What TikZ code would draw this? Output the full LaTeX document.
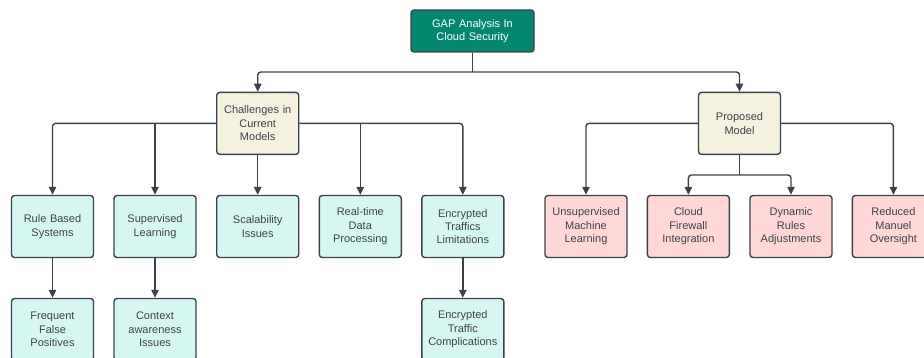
\documentclass[tikz,border=0pt]{standalone}
\usepackage{fontspec}
\setmainfont{Liberation Sans}
\usetikzlibrary{arrows.meta}
\definecolor{edge}{HTML}{3B424C}
\definecolor{txt}{HTML}{3F444C}
\definecolor{rootfill}{HTML}{05876F}
\definecolor{creamfill}{HTML}{F5F1DF}
\definecolor{mintfill}{HTML}{D6F7F1}
\definecolor{pinkfill}{HTML}{FFD7D7}
\tikzset{
  box/.style={draw=edge, line width=1.4pt, rounded corners=3pt, align=center,
    minimum width=82pt, minimum height=62pt, text width=78pt, inner sep=1pt,
    font=\fontsize{11}{13.4}\selectfont, text=txt},
  rootbox/.style={box, fill=rootfill, text=white, minimum width=123pt, minimum height=42pt, text width=118pt},
  midbox/.style={box, fill=creamfill},
  mintbox/.style={box, fill=mintfill},
  pinkbox/.style={box, fill=pinkfill},
  link/.style={draw=edge, line width=1.4pt, rounded corners=3pt},
  arr/.style={link, -{Triangle[length=8pt,width=7.5pt]}}
}
\begin{document}
\begin{tikzpicture}[x=1pt,y=-1pt]
  \useasboundingbox (0,0) rectangle (924,358);
  \clip (0,0) rectangle (924,358);

  % top level
  \node[rootbox] (root) at (472.5,31) {GAP Analysis In\\Cloud Security};

  % second level
  \node[midbox] (chal) at (257.7,123.4) {Challenges in\\Current\\Models};
  \node[midbox] (prop) at (739.5,123.4) {Proposed\\Model};

  % third level: challenges
  \node[mintbox] (rule) at (52.5,226.5) {Rule Based\\Systems};
  \node[mintbox] (sup)  at (155,226.5)  {Supervised\\Learning};
  \node[mintbox] (scal) at (257.7,226.5) {Scalability\\Issues};
  \node[mintbox] (rt)   at (360.3,226.5) {Real-time\\Data\\Processing};
  \node[mintbox] (enc)  at (462.8,226.5) {Encrypted\\Traffics\\Limitations};

  % third level: proposals
  \node[pinkbox] (unsup) at (586,226.5)  {Unsupervised\\Machine\\Learning};
  \node[pinkbox] (cfw)   at (688.4,226.5) {Cloud\\Firewall\\Integration};
  \node[pinkbox] (dyn)   at (791,226.5)  {Dynamic\\Rules\\Adjustments};
  \node[pinkbox] (red)   at (893.4,226.5) {Reduced\\Manuel\\Oversight};

  % fourth level
  \node[mintbox] (ffp) at (52.5,329.5)  {Frequent\\False\\Positives};
  \node[mintbox] (ctx) at (155,329.5)   {Context\\awareness\\Issues};
  \node[mintbox] (etc) at (462.8,329.5) {Encrypted\\Traffic\\Complications};

  % junction points
  \coordinate (jr) at (472.5,72);
  \coordinate (jcl) at (155,123.4);
  \coordinate (jcr) at (360.3,123.4);
  \coordinate (jp) at (739.5,175);

  % root to second level
  \draw[link] (root.south) -- (jr);
  \draw[arr] (jr) -| (chal.north);
  \draw[arr] (jr) -| (prop.north);

  % challenges branches
  \draw[arr] (chal.west) -| (rule.north);
  \draw[arr] (jcl) -- (sup.north);
  \draw[arr] (chal.south) -- (scal.north);
  \draw[arr] (chal.east) -| (enc.north);
  \draw[arr] (jcr) -- (rt.north);

  % proposal branches
  \draw[arr] (prop.west) -| (unsup.north);
  \draw[arr] (prop.east) -| (red.north);
  \draw[link] (prop.south) -- (jp);
  \draw[arr] (jp) -| (cfw.north);
  \draw[arr] (jp) -| (dyn.north);

  % follow-on issues
  \draw[arr] (rule.south) -- (ffp.north);
  \draw[arr] (sup.south) -- (ctx.north);
  \draw[arr] (enc.south) -- (etc.north);
\end{tikzpicture}
\end{document}
